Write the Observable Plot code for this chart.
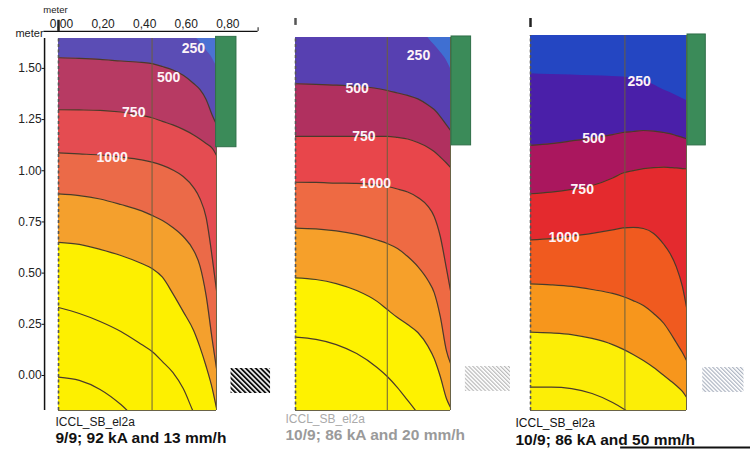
<!DOCTYPE html>
<html>
<head>
<meta charset="utf-8">
<script src="https://cdn.jsdelivr.net/npm/d3@7"></script>
<script src="https://cdn.jsdelivr.net/npm/@observablehq/plot@0.6"></script>
<style>
  body { margin: 0; background: #fff; }
  #chart { position: relative; width: 750px; height: 449px; overflow: hidden; background: #fff; }
  .panel { position: absolute; top: 0; }
</style>
</head>
<body>
<div id="chart"></div>
<script>
// ---------- data (metres; contour levels) ----------
const xGrid = [0, 0.1, 0.2, 0.3, 0.4, 0.45, 0.5, 0.55, 0.6, 0.65, 0.68, 0.71, 0.74, 0.76];
const levels = [250, 500, 750, 1000, 1250, 1500, 1750, 2000];
const bands = ["<250", "250–500", "500–750", "750–1000", "1000–1250", "1250–1500", "1500–1750", "1750–2000", ">2000"];

// contour lines: y (m) at each xGrid point, one row per level
const p1Lines = [
  [1.95, 1.93, 1.91, 1.89, 1.86, 1.84, 1.82, 1.78, 1.72, 1.66, 1.63, 1.59, 1.55, 1.51],
  [1.552, 1.549, 1.544, 1.536, 1.529, 1.523, 1.509, 1.492, 1.466, 1.426, 1.397, 1.348, 1.270, 1.226],
  [1.298, 1.297, 1.295, 1.287, 1.270, 1.259, 1.241, 1.224, 1.202, 1.175, 1.155, 1.133, 1.109, 1.075],
  [1.087, 1.082, 1.077, 1.067, 1.053, 1.042, 1.026, 1.004, 0.972, 0.918, 0.865, 0.772, 0.572, 0.415],
  [0.887, 0.879, 0.862, 0.835, 0.804, 0.782, 0.757, 0.723, 0.679, 0.611, 0.537, 0.391, 0.171, 0.034],
  [0.650, 0.640, 0.616, 0.586, 0.547, 0.523, 0.480, 0.400, 0.312, 0.220, 0.140, 0.045, -0.065, -0.160],
  [0.332, 0.303, 0.264, 0.215, 0.151, 0.117, 0.068, 0.015, -0.064, -0.181, -0.244, -0.318, -0.391, -0.440],
  [-0.008, -0.024, -0.068, -0.142, -0.244, -0.300, -0.360, -0.420, -0.480, -0.540, -0.570, -0.600, -0.630, -0.650]
];
const p2Lines = [
  [1.95, 1.93, 1.91, 1.89, 1.86, 1.84, 1.81, 1.77, 1.72, 1.65, 1.615, 1.58, 1.54, 1.50],
  [1.425, 1.422, 1.418, 1.412, 1.402, 1.392, 1.380, 1.368, 1.351, 1.321, 1.299, 1.265, 1.224, 1.197],
  [1.168, 1.168, 1.168, 1.168, 1.168, 1.168, 1.163, 1.155, 1.138, 1.114, 1.094, 1.067, 1.038, 1.016],
  [0.944, 0.943, 0.940, 0.938, 0.931, 0.923, 0.911, 0.896, 0.870, 0.826, 0.777, 0.679, 0.523, 0.415],
  [0.720, 0.716, 0.706, 0.689, 0.662, 0.645, 0.620, 0.581, 0.532, 0.464, 0.405, 0.288, 0.122, 0.059],
  [0.477, 0.469, 0.449, 0.415, 0.362, 0.322, 0.283, 0.249, 0.210, 0.142, 0.083, -0.005, -0.112, -0.156],
  [0.187, 0.176, 0.151, 0.107, 0.039, -0.005, -0.059, -0.122, -0.186, -0.259, -0.303, -0.347, -0.391, -0.415]
];
const p3Lines = [
  [1.474, 1.470, 1.468, 1.464, 1.461, 1.458, 1.453, 1.441, 1.421, 1.395, 1.383, 1.368, 1.353, 1.343],
  [1.124, 1.133, 1.146, 1.160, 1.177, 1.187, 1.192, 1.197, 1.194, 1.187, 1.182, 1.172, 1.163, 1.156],
  [0.888, 0.896, 0.909, 0.928, 0.965, 0.989, 1.001, 1.011, 1.016, 1.018, 1.016, 1.014, 1.011, 1.010],
  [0.663, 0.669, 0.681, 0.694, 0.711, 0.721, 0.724, 0.718, 0.694, 0.640, 0.596, 0.532, 0.435, 0.334],
  [0.448, 0.443, 0.435, 0.420, 0.401, 0.386, 0.366, 0.342, 0.303, 0.254, 0.210, 0.161, 0.112, 0.073],
  [0.212, 0.208, 0.200, 0.181, 0.151, 0.129, 0.103, 0.073, 0.039, 0.000, -0.024, -0.049, -0.078, -0.106],
  [-0.057, -0.057, -0.064, -0.088, -0.132, -0.161, -0.195, -0.234, -0.274, -0.318, -0.342, -0.366, -0.391, -0.405]
];

// contour labels: [level, x, y]
const p1Labels = [[250, 0.649, 1.597], [500, 0.530, 1.457], [750, 0.362, 1.286], [1000, 0.258, 1.066]];
const p2Labels = [[250, 0.603, 1.563], [500, 0.302, 1.401], [750, 0.335, 1.168], [1000, 0.392, 0.937]];
const p3Labels = [[250, 0.529, 1.438], [500, 0.309, 1.160], [750, 0.252, 0.907], [1000, 0.163, 0.676]];

// panel extents and annotations (metres)
const panelWidth = [0, 0.76];
const dividerX = [0.45, 0.45, 0.46];
const greenBoxes = [[0.758, 0.856, 1.115, 1.654], [0.765, 0.861, 1.124, 1.656], [0.765, 0.854, 1.124, 1.666]];
const groundBoxes = [[0.83, 1.02, -0.088, 0.034], [0.833, 1.054, -0.078, 0.044], [0.839, 1.04, -0.083, 0.039]];
const yTicks = [0, 0.25, 0.5, 0.75, 1.0, 1.25, 1.5];
const xTicks = [0, 0.2, 0.4, 0.6, 0.8];
const runIds = ["ICCL_SB_el2a", "ICCL_SB_el2a", "ICCL_SB_el2a"];
const captions = ["9/9; 92 kA and 13 mm/h", "10/9; 86 kA and 20 mm/h", "10/9; 86 kA and 50 mm/h"];

// palettes per panel (scanned tones)
const p1Colors = ["#4b72d3", "#5b4db5", "#b73a63", "#e44c51", "#eb6a48", "#f4a02d", "#fdf000", "#fdf000", "#fdf000"];
const p2Colors = ["#3f6fd2", "#5740b1", "#b0305f", "#e8464b", "#ee6a43", "#f6a02a", "#fef200", "#fef200", "#fef200"];
const p3Colors = ["#2446c2", "#4a1fa9", "#aa175e", "#e42a2e", "#f05a1f", "#f7961c", "#fcee06", "#fcee06", "#fcee06"];

const FONT = "'Liberation Sans', Arial, sans-serif";

function makePanel(cfg) {
  const lines = cfg.lines;
  const rows = lines.flatMap((ys, k) => ys.map((y, i) => ({level: levels[k], band: bands[k], x: xGrid[i], y})));
  const [y0, yTop] = cfg.yDomain;
  const [xa, xb] = panelWidth;
  const marks = [];
  // lowest band fills the frame
  marks.push(Plot.rect([bands[lines.length]], {x1: () => xa, x2: () => xb, y1: () => y0, y2: () => yTop, fill: d => d}));
  // each contour: region above it gets the band above that level
  for (let k = lines.length - 1; k >= 0; k--) {
    marks.push(Plot.areaY(rows.filter(d => d.level === levels[k]), {
      x: "x", y1: "y", y2: () => yTop + 0.6, fill: "band", curve: "monotone-x", clip: true
    }));
  }
  marks.push(Plot.line(rows.filter(d => d.level > 250), {
    x: "x", y: "y", z: "level", stroke: "#4a3a2b", strokeWidth: 1.2, curve: "monotone-x", clip: true
  }));
  // vertical divider
  marks.push(Plot.ruleX([cfg.divider], {y1: () => y0, y2: () => yTop, stroke: "#6b5f3d", strokeWidth: 1}));
  // frame edges
  marks.push(Plot.ruleY([y0], {x1: () => xa, x2: () => xb, stroke: "#6a6346", strokeWidth: 1.2}));
  marks.push(Plot.ruleX([xb], {y1: () => y0, y2: () => yTop, stroke: "#6a6346", strokeWidth: 1}));
  marks.push(Plot.ruleX([xa], {y1: () => y0, y2: () => yTop, stroke: "#555", strokeWidth: 1.6, strokeDasharray: "3,2.5"}));
  // green box
  marks.push(Plot.rect([cfg.green], {x1: d => d[0], x2: d => d[1], y1: d => d[2], y2: d => d[3], fill: "#3b8b59", stroke: "#2f6f49", strokeWidth: 1}));
  // ground hatch
  marks.push(Plot.rect([cfg.ground], {x1: d => d[0], x2: d => d[1], y1: d => d[2], y2: d => d[3], fill: `url(#${cfg.hatchId})`}));
  // contour labels
  marks.push(Plot.text(cfg.labels, {
    x: d => d[1], y: d => d[2], text: d => String(d[0]),
    fill: "#fdf3f7", fontSize: 14, fontWeight: "bold"
  }));
  // top zero tick
  marks.push(Plot.ruleX([0], {y1: () => cfg.tick[0], y2: () => cfg.tick[1], stroke: cfg.tickColor, strokeWidth: 2.5}));
  // captions
  marks.push(Plot.text([cfg.runId], {
    frameAnchor: "bottom-left", text: d => d, dx: cfg.capDx, dy: cfg.capDy[0],
    textAnchor: "start", lineAnchor: "middle", fontSize: 12, fill: cfg.capColors[0]
  }));
  marks.push(Plot.text([cfg.caption], {
    frameAnchor: "bottom-left", text: d => d, dx: cfg.capDx, dy: cfg.capDy[1],
    textAnchor: "start", lineAnchor: "middle", fontSize: 15.5, fontWeight: "bold", fill: cfg.capColors[1]
  }));
  if (cfg.extra) marks.push(...cfg.extra(y0, yTop));

  const svg = Plot.plot({
    width: cfg.width, height: 449,
    marginLeft: cfg.margins[0], marginRight: cfg.margins[1], marginTop: cfg.margins[2], marginBottom: cfg.margins[3],
    x: {domain: panelWidth, axis: null},
    y: {domain: cfg.yDomain, axis: null},
    color: {type: "ordinal", domain: bands, range: cfg.colors},
    style: {background: "transparent", overflow: "visible", fontFamily: FONT},
    marks
  });
  const defs = d3.select(svg).insert("defs", ":first-child");
  const p = defs.append("pattern").attr("id", cfg.hatchId).attr("patternUnits", "userSpaceOnUse")
    .attr("width", cfg.hatch.period).attr("height", cfg.hatch.period).attr("patternTransform", "rotate(-45)");
  p.append("rect").attr("width", cfg.hatch.period).attr("height", cfg.hatch.period).attr("fill", "#fff");
  p.append("rect").attr("width", cfg.hatch.stripe).attr("height", cfg.hatch.period).attr("fill", cfg.hatch.color);
  const div = document.createElement("div");
  div.className = "panel";
  div.style.left = cfg.left + "px";
  div.style.width = cfg.width + "px";
  div.appendChild(svg);
  document.getElementById("chart").appendChild(div);
}

const topAxisY = 1.6805;
const leftAxisX = -0.067;

makePanel({
  lines: p1Lines, labels: p1Labels, colors: p1Colors, divider: dividerX[0],
  green: greenBoxes[0], ground: groundBoxes[0], runId: runIds[0], caption: captions[0],
  left: 0, width: 280, margins: [58, 64, 38, 39], yDomain: [-0.171, 1.646],
  hatchId: "hatch1", hatch: {period: 3.5, stripe: 1.9, color: "#111"},
  tick: [topAxisY, 1.735], tickColor: "#222",
  capDx: -3, capDy: [12, 28], capColors: ["#1a1a1a", "#111"],
  extra: (y0, yTop) => [
    Plot.ruleX([leftAxisX], {y1: () => y0, y2: () => yTop, stroke: "#111", strokeWidth: 1.5}),
    Plot.ruleY(yTicks, {x1: () => leftAxisX - 0.012, x2: () => leftAxisX, stroke: "#111", strokeWidth: 1}),
    Plot.text(yTicks, {x: () => leftAxisX, y: d => d, text: d => d.toFixed(2), textAnchor: "end", dx: -3, fontSize: 12, fill: "#222"}),
    Plot.ruleY([topAxisY], {x1: () => -0.07, x2: () => 0.96, stroke: "#111", strokeWidth: 1.2}),
    Plot.ruleX([0.96], {y1: () => topAxisY, y2: () => topAxisY + 0.018, stroke: "#111", strokeWidth: 1}),
    Plot.text(xTicks, {x: d => d, y: () => topAxisY, text: d => d.toFixed(2).replace(".", ","), dx: 3, dy: -7, fontSize: 12, fill: "#222"}),
    Plot.text(["meter"], {x: () => 0, y: () => topAxisY, text: d => d, dx: -3, dy: -21, fontSize: 9.5, fill: "#222"}),
    Plot.text(["meter"], {x: () => leftAxisX, y: () => topAxisY, text: d => d, textAnchor: "end", dx: -1, dy: 2, fontSize: 11, fill: "#222"})
  ]
});

makePanel({
  lines: p2Lines, labels: p2Labels, colors: p2Colors, divider: dividerX[1],
  green: greenBoxes[1], ground: groundBoxes[1], runId: runIds[1], caption: captions[1],
  left: 280, width: 235, margins: [15, 65, 37, 39], yDomain: [-0.171, 1.651],
  hatchId: "hatch2", hatch: {period: 2.8, stripe: 1.1, color: "#b4b4b4"},
  tick: [1.71, 1.744], tickColor: "#555",
  capDx: -10, capDy: [9, 25], capColors: ["#aaaaaa", "#9a9a9a"]
});

makePanel({
  lines: p3Lines, labels: p3Labels, colors: p3Colors, divider: dividerX[2],
  green: greenBoxes[2], ground: groundBoxes[2], runId: runIds[2], caption: captions[2],
  left: 515, width: 235, margins: [15, 64, 35, 39], yDomain: [-0.171, 1.661],
  hatchId: "hatch3", hatch: {period: 2.8, stripe: 1.1, color: "#a6aebd"},
  tick: [1.70, 1.744], tickColor: "#222",
  capDx: -15, capDy: [13, 30], capColors: ["#111", "#111"],
  extra: () => [
    Plot.ruleY([-0.352], {x1: () => 0.439, x2: () => 1.08, stroke: "#111", strokeWidth: 2})
  ]
});
</script>
</body>
</html>
